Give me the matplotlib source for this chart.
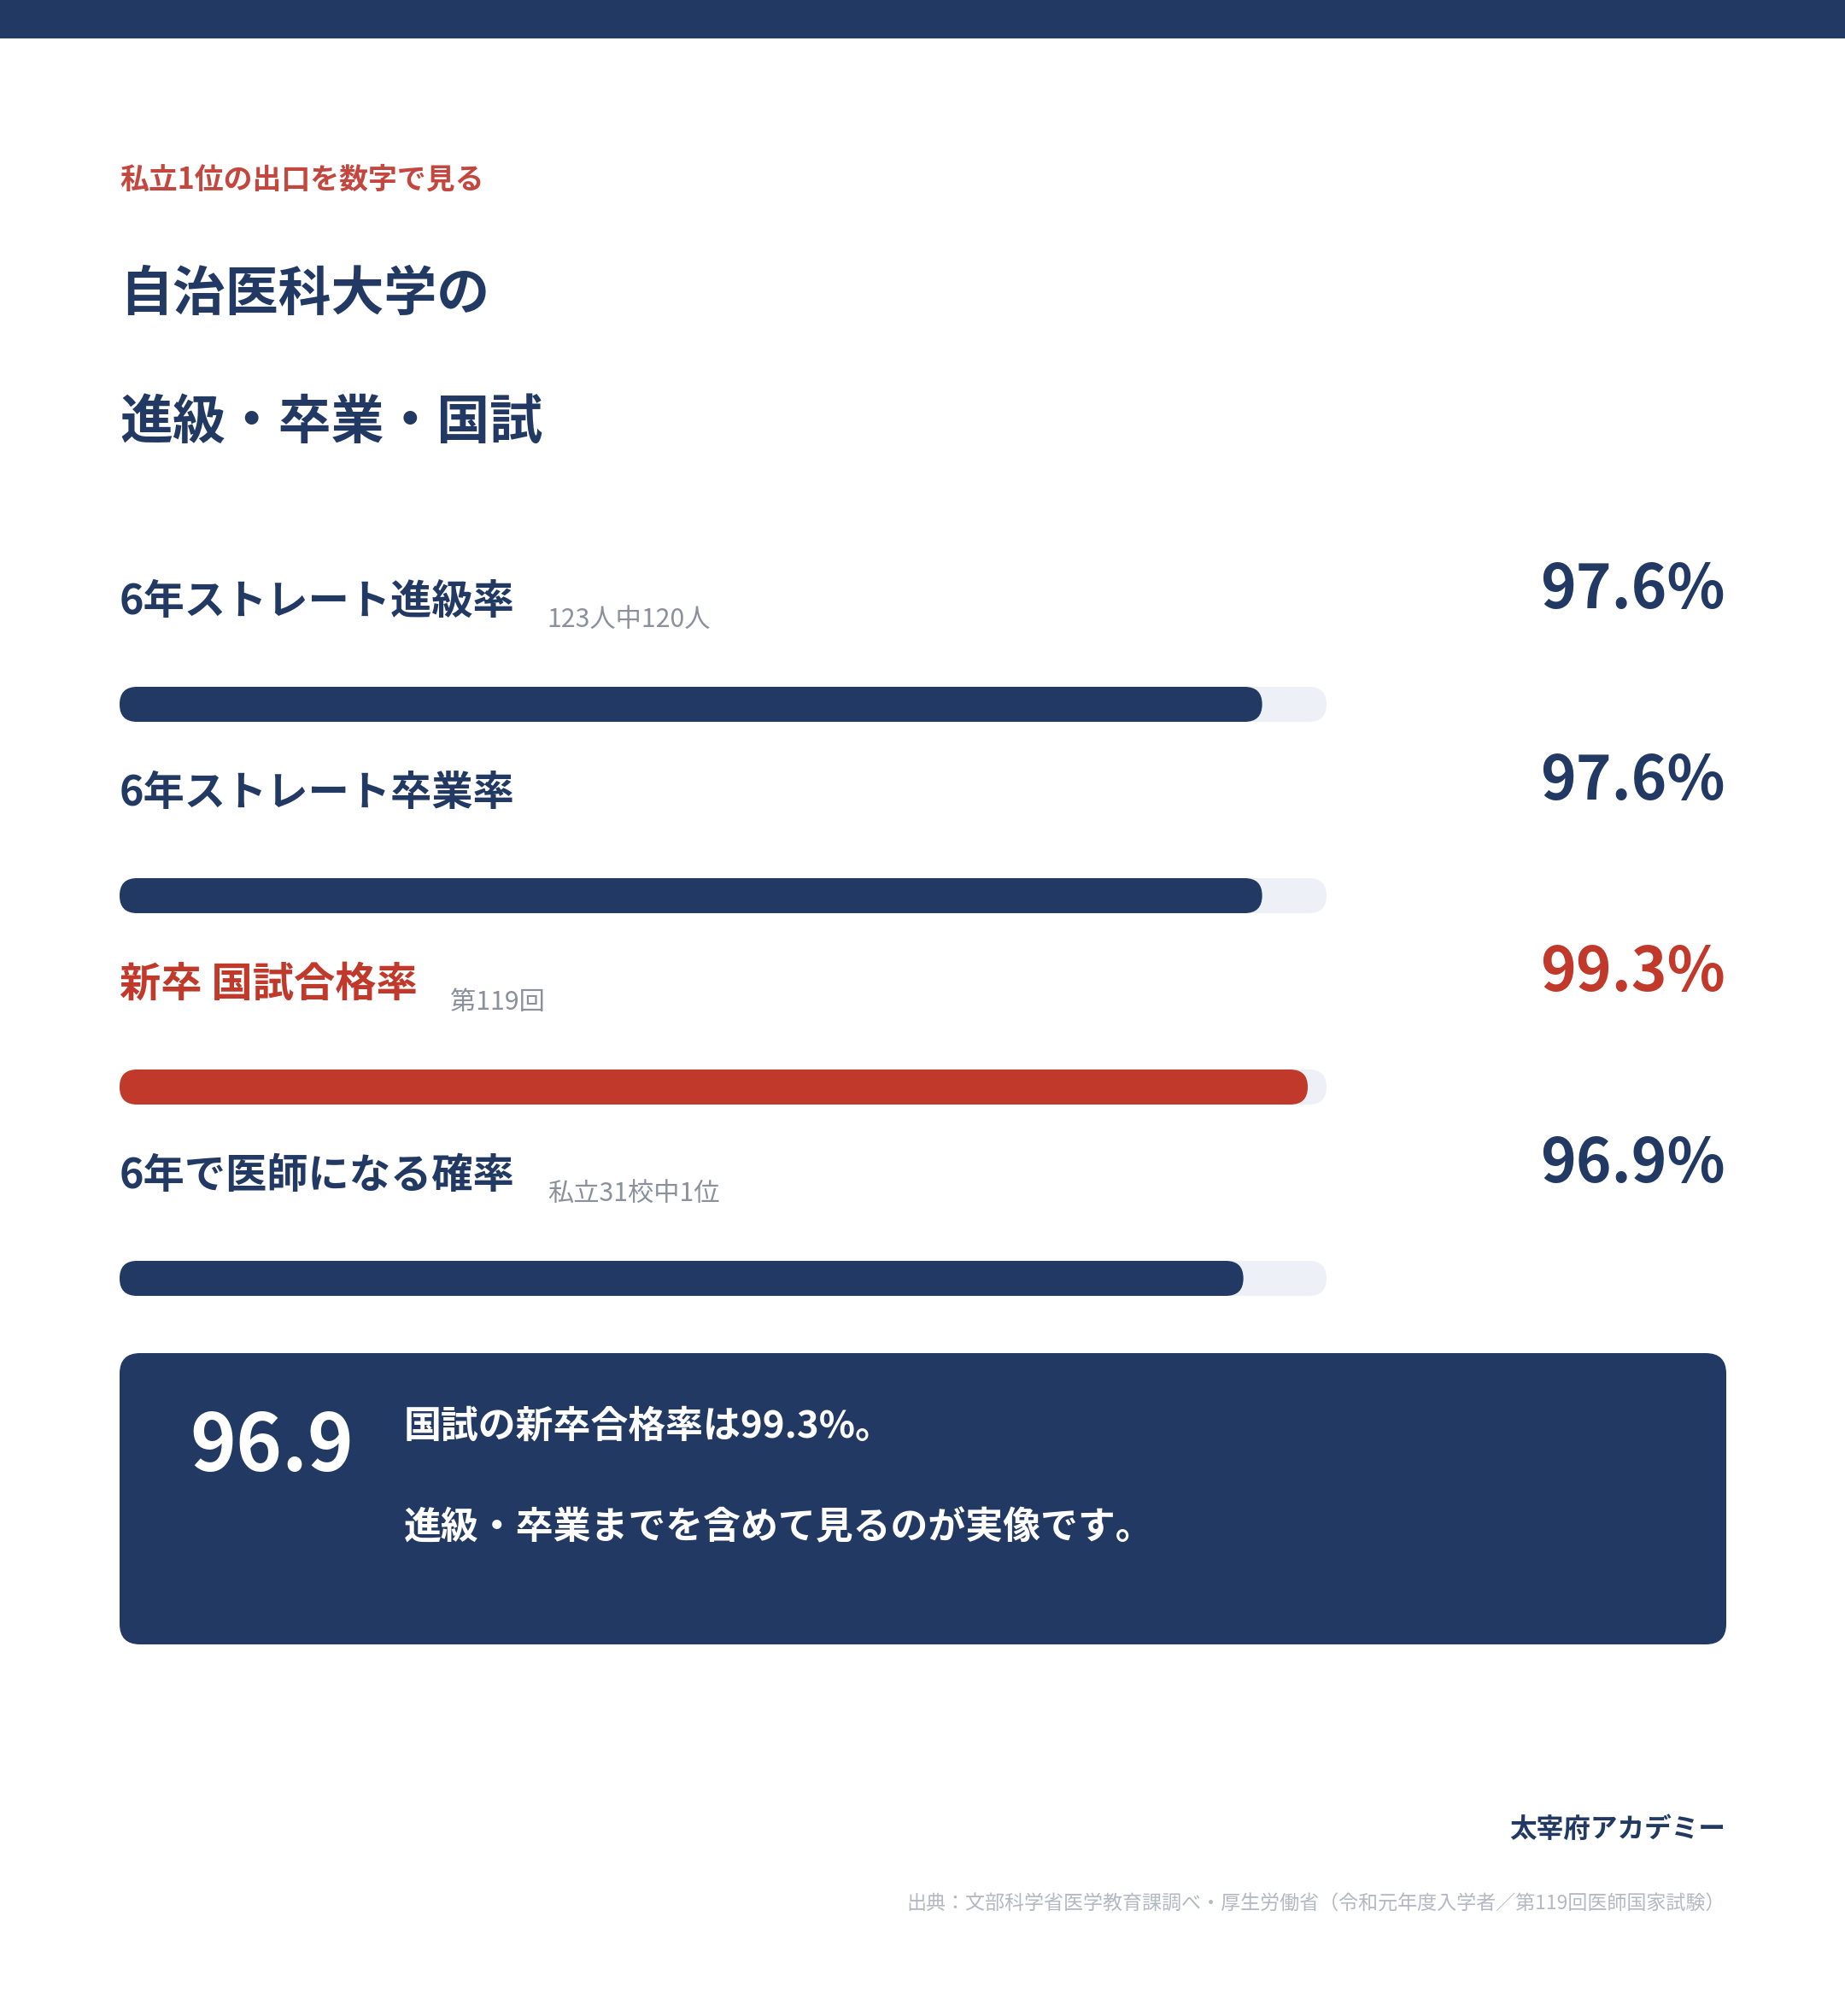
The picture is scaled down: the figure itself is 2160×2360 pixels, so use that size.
import matplotlib
matplotlib.use("Agg")
import matplotlib.pyplot as plt
from matplotlib.patches import FancyBboxPatch, Rectangle

plt.rcParams['font.family'] = ['Noto Sans CJK JP', 'DejaVu Sans']

NAVY = '#213963'
RED = '#c0392b'
KICKER = '#c4473f'
TRACK = '#edf0f7'
GRAY = '#8a909c'
LIGHT = '#b4b8c2'

# data
kicker = '私立1位の出口を数字で見る'
title_lines = ['自治医科大学の', '進級・卒業・国試']
labels = ['6年ストレート進級率', '6年ストレート卒業率', '新卒 国試合格率', '6年で医師になる確率']
notes = ['123人中120人', '', '第119回', '私立31校中1位']
values = [97.6, 97.6, 99.3, 96.9]
highlight = [False, False, True, False]
scale_min, scale_max = 55, 100
box_number = '96.9'
box_lines = ['国試の新卒合格率は99.3%。', '進級・卒業までを含めて見るのが実像です。']
brand = '太宰府アカデミー'
source = '出典：文部科学省医学教育課調べ・厚生労働省（令和元年度入学者／第119回医師国家試験）'

W, H = 2160, 2360
fig = plt.figure(figsize=(W / 200, H / 200), dpi=200)
fig.patch.set_facecolor('white')

# background axes in pixel units
bg = fig.add_axes([0, 0, 1, 1])
bg.set_xlim(0, W)
bg.set_ylim(H, 0)
bg.axis('off')

bg.add_patch(Rectangle((0, 0), W, 45, fc=NAVY, ec='none'))

left, right = 140, 2020
bg.text(left, 221, kicker, color=KICKER, fontsize=12.2, fontweight='bold', va='baseline')
for i, line in enumerate(title_lines):
    bg.text(left, 363 + i * 150, line, color=NAVY, fontsize=22.3, fontweight='bold', va='baseline')

# bars
row_px, bar_px, track_px = 224, 41, 1413
first_bar = 824.5
ax = fig.add_axes([left / W, 1 - (first_bar + 3.5 * row_px) / H, track_px / W, 4 * row_px / H])
ax.set_xlim(scale_min, scale_max)
ax.set_ylim(3.5, -0.5)
ax.axis('off')
h = bar_px / row_px
rx = (bar_px / 2) * (scale_max - scale_min) / track_px
aspect = (h / 2) / rx
for i, v in enumerate(values):
    color = RED if highlight[i] else NAVY
    for x1, c in [(scale_max, TRACK), (v, color)]:
        ax.add_patch(FancyBboxPatch((scale_min, i - h / 2), x1 - scale_min, h,
                                    boxstyle=f'round,pad=0,rounding_size={rx}',
                                    mutation_aspect=aspect, fc=c, ec='none'))

renderer = fig.canvas.get_renderer()
for i, (lab, note, v) in enumerate(zip(labels, notes, values)):
    color = RED if highlight[i] else NAVY
    base = 719 + i * row_px
    t = bg.text(left, base, lab, color=color, fontsize=17.4, fontweight='bold', va='baseline')
    if note:
        x1 = t.get_window_extent(renderer).x1
        bg.text(x1 + 38, base + 15, note, color=GRAY, fontsize=10.9, va='baseline')
    bg.text(right, 712 + i * row_px, f'{v:.1f}%', color=color, fontsize=25.5,
            fontweight='bold', ha='right', va='baseline')

# summary box
bg.add_patch(FancyBboxPatch((left, 1584), 2021 - left, 1925 - 1584,
                            boxstyle='round,pad=0,rounding_size=24', fc=NAVY, ec='none'))
bg.text(222, 1722, box_number, color='white', fontsize=33, fontweight='bold', va='baseline')
bg.text(473, 1683, box_lines[0], color='white', fontsize=15.8, fontweight='bold', va='baseline')
bg.text(473, 1801, box_lines[1], color='white', fontsize=15.8, fontweight='bold', va='baseline')

# footer
bg.text(right, 2151, brand, color=NAVY, fontsize=11.4, fontweight='bold', ha='right', va='baseline')
bg.text(right, 2236, source, color=LIGHT, fontsize=8.3, ha='right', va='baseline')

fig.savefig('out.png', dpi=200, facecolor='white')
